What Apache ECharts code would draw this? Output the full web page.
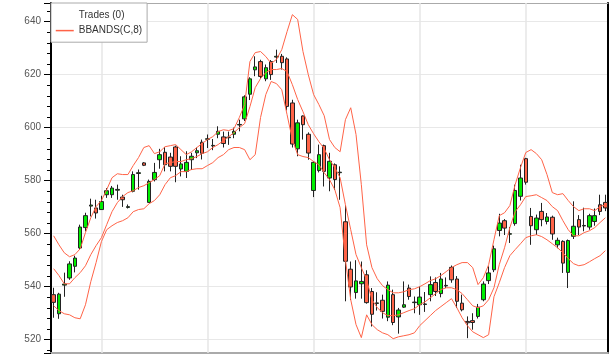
<!DOCTYPE html>
<html><head><meta charset="utf-8">
<script src="https://cdn.jsdelivr.net/npm/echarts@6/dist/echarts.min.js"></script>
<style>html,body{margin:0;padding:0;background:#fff}#c{width:616px;height:359px}</style>
</head><body><div id="c"></div>
<script>
const categories = ['1','2','3','4','5','6','7','8','9','10','11','12','13','14','15','16','17','18','19','20',
'21','22','23','24','25','26','27','28','29','30','31','32','33','34','35','36','37','38','39','40',
'41','42','43','44','45','46','47','48','49','50','51','52','53','54','55','56','57','58','59','60',
'61','62','63','64','65','66','67','68','69','70','71','72','73','74','75','76','77','78','79','80',
'81','82','83','84','85','86','87','88','89','90','91','92','93','94','95','96','97','98','99','100',
'101','102','103','104','105'];
const opens = [537.0,529.8,540.6,543.3,547.7,554.6,562.3,570.4,569.7,569.1,
574.7,574.7,576.4,573.8,569.9,576.0,582.7,586.7,571.8,580.4,
587.9,590.7,588.9,592.7,584.4,583.5,587.9,590.5,594.5,595.6,
593.1,597.5,596.5,596.2,597.5,601.0,603.3,612.6,621.8,624.9,
618.4,624.9,626.6,626.9,625.9,609.3,592.0,604.4,597.5,576.3,
583.8,593.2,581.0,586.0,583.0,564.5,546.6,537.8,541.1,544.5,
538.2,533.7,534.9,528.5,537.0,528.6,532.3,539.5,534.0,533.2,
533.3,537.0,541.6,537.4,540.3,547.3,542.9,533.8,526.9,527.2,
528.8,535.1,542.3,546.4,561.2,564.9,559.8,563.8,574.1,588.3,
566.5,561.5,568.4,564.6,566.2,555.8,557.1,545.4,559.0,565.3,
562.9,562.5,564.6,570.9,571.8];
const closes = [534.1,537.2,541.0,548.6,550.8,562.5,566.8,570.8,567.8,572.1,
576.2,577.2,576.7,572.8,570.2,582.3,583.0,585.8,579.7,583.1,
589.8,586.0,585.4,585.4,586.3,586.9,589.2,591.3,590.3,595.8,
593.3,598.6,594.0,596.4,598.6,601.2,611.6,618.4,622.9,619.3,
622.6,620.0,626.9,624.5,608.0,593.8,601.8,601.1,590.4,586.9,
589.8,583.5,587.3,580.4,583.2,549.6,539.9,542.2,542.0,534.0,
529.6,533.9,530.7,540.6,526.5,531.2,533.2,536.3,534.2,536.1,
533.5,540.8,538.2,542.9,540.5,542.6,534.5,531.3,526.4,526.5,
532.3,541.0,545.2,554.3,564.0,562.1,560.0,576.3,581.0,579.4,
563.0,565.9,565.3,566.3,559.9,557.5,548.9,557.4,562.8,562.5,
563.1,566.8,566.8,568.4,569.7];
const lows = [528.3,527.9,536.2,542.6,545.4,554.0,560.9,566.5,565.7,569.0,
573.5,573.5,572.8,570.1,569.5,575.6,576.6,585.5,571.6,579.7,
584.5,583.5,583.5,579.4,581.6,581.0,584.0,588.5,588.0,592.3,
591.5,596.0,592.5,593.5,596.0,598.6,602.5,610.4,619.4,618.5,
617.5,618.0,624.4,621.9,606.5,592.5,589.2,595.5,587.9,573.8,
583.1,577.8,576.0,576.5,572.8,534.5,535.0,535.5,535.5,533.6,
525.0,531.0,528.0,527.0,525.5,522.3,532.0,535.1,530.0,529.4,
530.5,534.5,536.5,536.0,539.5,541.5,532.0,530.7,520.6,523.8,
528.0,534.5,541.0,545.5,559.0,559.5,556.5,563.0,572.5,578.5,
555.8,559.5,562.8,563.5,557.7,554.5,545.2,539.5,558.0,559.5,
560.9,561.5,563.0,567.0,568.5];
const highs = [539.6,537.7,545.3,549.6,551.7,563.4,567.9,573.2,572.8,574.3,
577.2,578.0,578.5,574.7,571.0,583.5,584.2,587.0,580.4,586.7,
592.0,592.7,590.5,593.2,589.2,591.1,590.5,592.5,595.5,597.4,
595.7,600.5,598.5,598.5,600.0,603.0,612.2,619.0,626.9,625.6,
623.8,625.5,629.4,627.8,626.5,610.5,603.0,604.6,598.2,587.3,
593.6,593.6,590.5,586.5,585.4,570.8,549.5,550.0,549.5,546.2,
539.5,537.9,537.0,542.0,538.9,532.0,542.0,540.8,536.3,540.1,
538.0,543.9,543.5,545.2,543.5,548.0,544.0,537.0,528.8,530.0,
533.5,542.0,547.7,555.5,567.5,565.5,562.5,578.5,586.0,588.6,
569.7,567.2,571.6,567.8,566.8,558.5,557.5,557.8,572.2,567.0,
569.8,567.5,569.5,574.7,574.7];
const upperBand = [559.2,555.8,552.8,551.3,552.1,554.3,560.4,566.0,570.2,572.5,
576.6,581.1,582.6,582.3,582.3,585.7,588.7,592.5,593.2,590.2,
590.9,592.8,593.2,593.6,591.7,589.8,590.9,592.5,594.0,595.5,
596.6,598.5,599.2,598.9,599.6,603.8,608.7,624.9,628.3,628.7,
626.8,624.2,625.7,629.4,636.2,642.6,640.8,628.7,620.0,612.5,
608.7,604.5,595.5,592.5,590.9,603.0,607.5,597.4,578.5,555.8,
547.2,543.0,540.4,538.9,537.7,537.7,538.1,538.9,539.2,540.0,
541.1,542.3,543.0,544.2,545.7,547.2,548.3,549.1,549.1,547.2,
540.8,543.4,548.3,557.7,566.8,567.9,570.6,578.5,584.9,590.6,
591.7,590.2,587.9,582.3,575.5,574.7,575.1,572.5,570.2,568.7,
569.4,569.4,568.7,570.2,570.9];
const middleBand = [546.8,544.2,541.1,541.1,543.4,545.3,547.9,552.1,555.5,558.5,
563.4,568.3,571.7,574.0,575.5,576.2,577.4,578.1,579.2,580.4,
581.9,586.4,586.8,587.2,587.2,587.9,588.3,589.1,590.2,590.9,
592.5,593.6,595.1,596.6,598.1,600.0,601.5,607.9,615.1,618.5,
620.8,621.9,621.9,622.3,621.1,616.2,610.6,606.0,601.1,597.7,
594.7,592.1,587.9,584.9,581.1,570.9,561.5,552.1,547.2,542.6,
535.1,532.1,530.2,529.1,529.1,529.4,530.2,531.0,531.7,533.2,
534.3,535.8,537.4,538.9,539.6,539.6,538.9,537.4,535.1,532.8,
532.1,532.8,535.1,539.6,548.3,554.7,562.3,568.3,570.9,574.0,
574.3,574.7,573.6,572.5,570.2,568.7,564.9,561.5,559.2,559.2,
560.4,561.1,562.3,564.2,566.0];
const lowerBand = [532.8,531.0,529.8,529.4,528.3,527.9,533.2,541.9,549.1,557.0,
561.5,563.0,564.2,564.9,566.0,568.3,569.1,569.4,571.3,572.5,
574.7,578.5,581.1,581.9,583.4,583.4,584.2,584.5,584.5,585.7,
586.8,588.7,589.8,591.7,592.5,592.5,591.7,587.9,589.8,603.8,
612.5,617.4,616.6,614.3,604.9,595.5,589.8,589.1,588.7,587.2,
586.0,583.0,580.4,576.6,569.8,550.2,535.1,525.7,520.8,529.4,
525.7,523.8,522.6,521.9,520.4,521.1,521.5,521.9,522.6,525.3,
527.2,529.1,531.0,532.5,534.0,535.5,532.1,528.3,525.3,523.0,
521.9,520.8,521.9,536.2,541.5,547.2,551.7,554.0,556.2,558.5,
559.2,559.6,558.9,557.7,556.2,554.7,552.8,550.6,548.7,547.9,
548.3,549.4,550.6,551.7,553.6];
const yTickLabels = ['520','540','560','580','600','620','640'];
const verticalGridAt = [9,29,49,69,89];

const candleData = opens.map((o,i)=>[o, closes[i], lows[i], highs[i]]);
const BAND_COLOR = '#ff6347';
const bandStyle = {type:'line', name:'BBANDS(C,8)', symbol:'none', silent:true,
  lineStyle:{color:BAND_COLOR, width:1}, itemStyle:{color:BAND_COLOR}, z:3, animation:false};

const chart = echarts.init(document.getElementById('c'), null, {renderer:'canvas'});
chart.setOption({
  animation:false,
  textStyle:{fontFamily:'"Liberation Sans", Arial, sans-serif'},
  grid:{left:51, right:8, top:3, bottom:6, show:false},
  legend:{
    left:51, top:3, orient:'vertical', selectedMode:false,
    backgroundColor:'#fff', borderColor:'#aaa', borderWidth:1,
    padding:[5,5,6,4], itemGap:5, itemWidth:18, itemHeight:14,
    textStyle:{fontSize:10, color:'#333'},
    data:[{name:'Trades (0)', icon:'none'},
          {name:'BBANDS(C,8)', itemStyle:{opacity:0}, lineStyle:{color:BAND_COLOR, width:1.5}}]
  },
  xAxis:[
    {type:'category', data:categories, boundaryGap:true,
     axisLine:{lineStyle:{color:'#aaa', width:2}}, axisTick:{show:false},
     axisLabel:{show:false}, splitLine:{show:false}},
    {type:'category', data:categories, position:'top', boundaryGap:true,
     axisLine:{lineStyle:{color:'#aaa', width:1}}, axisTick:{show:false},
     axisLabel:{show:false}, splitLine:{show:false}}
  ],
  yAxis:[
    {type:'value', min:515, max:647, splitNumber:6, scale:true,
     axisLine:{show:true, lineStyle:{color:'#000', width:2}},
     axisTick:{show:true, length:7, lineStyle:{color:'#000'}},
     minorTick:{show:true, splitNumber:5, length:4, lineStyle:{color:'#000'}},
     axisLabel:{color:'#555', fontSize:10, margin:10, showMinLabel:false, showMaxLabel:false,
       formatter:(v)=> yTickLabels.includes(String(v)) ? String(v) : ''},
     splitLine:{show:true, lineStyle:{color:'#e8e8e8', width:1}}},
    {type:'value', min:515, max:647, position:'right',
     axisLine:{show:true, lineStyle:{color:'#000', width:2}},
     axisTick:{show:false}, axisLabel:{show:false}, splitLine:{show:false}}
  ],
  series:[
    {type:'scatter', name:'Trades (0)', data:[]},
    {type:'candlestick', name:'OHLC', data:candleData, barWidth:4, z:2, silent:true,
     itemStyle:{color:'#00ee00', color0:'#ff6347', borderColor:'#222', borderColor0:'#222', borderWidth:1},
     markLine:{silent:true, symbol:['none','none'], z:1, animation:false,
       label:{show:false}, lineStyle:{color:'#e6e6e6', width:1.5, type:'solid'},
       data: verticalGridAt.map(i=>({xAxis:i}))}},
    Object.assign({data:upperBand}, bandStyle),
    Object.assign({data:middleBand}, bandStyle),
    Object.assign({data:lowerBand}, bandStyle)
  ]
});
</script></body></html>
